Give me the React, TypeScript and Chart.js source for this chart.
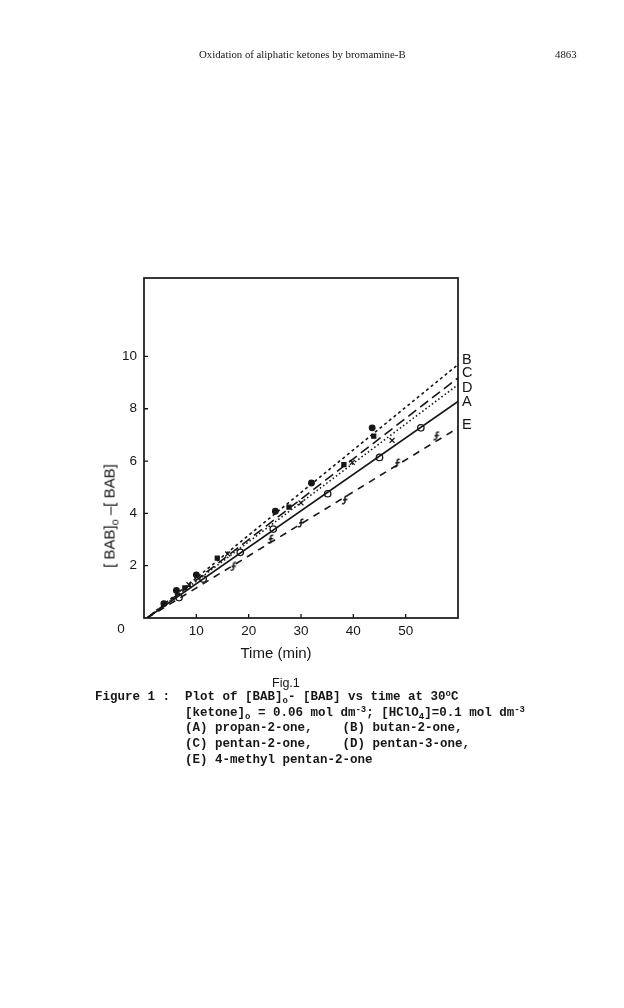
import React, { useEffect, useRef } from 'react';
import { Chart, registerables } from 'chart.js';

Chart.register(...registerables);

// ---- axis setup ----
const xTickValues = [10, 20, 30, 40, 50];
const yTickValues = [2, 4, 6, 8, 10];
const xMin = 0;
const xMax = 60;
const yMin = 0;
const yMax = 13;

// ---- fitted lines ----
const seriesNames = ['A', 'B', 'C', 'D', 'E'];
const fitStartTime = [0.6, 0.6, 0.6, 0.6, 0.6];
const fitStartValue = [0, 0, 0, 0, 0];
const fitEndTime = [60, 60, 60, 60, 60];
const fitEndValue = [8.28, 9.69, 9.18, 8.92, 7.27];

// ---- measured points ----
const timeA = [6.7, 11.3, 18.4, 24.7, 35.1, 45.0, 52.9];
const valueA = [0.78, 1.49, 2.51, 3.4, 4.75, 6.14, 7.27];
const timeB = [3.8, 6.2, 10.0, 25.1, 32.0, 43.6];
const valueB = [0.55, 1.05, 1.65, 4.08, 5.16, 7.27];
const timeC = [7.8, 14.0, 27.7, 38.2, 43.9];
const valueC = [1.15, 2.29, 4.24, 5.86, 6.95];
const timeD = [8.6, 16.0, 30.0, 39.8, 47.4];
const valueD = [1.27, 2.45, 4.4, 5.95, 6.79];
const timeE = [17.1, 24.2, 30.0, 38.4, 48.4, 55.9];
const valueE = [1.97, 3.02, 3.63, 4.52, 5.93, 6.97];

const pointTimes = [timeA, timeB, timeC, timeD, timeE];
const pointValues = [valueA, valueB, valueC, valueD, valueE];

const INK = '#161616';
const SANS = "'Liberation Sans Narrow', 'Liberation Sans', Arial, sans-serif";
const MONO = "'Liberation Mono', 'DejaVu Sans Mono', monospace";
const SERIF = "'Liberation Serif', 'DejaVu Serif', serif";

function makeHookMarker(): HTMLCanvasElement {
  const c = document.createElement('canvas');
  c.width = 8;
  c.height = 10;
  const g = c.getContext('2d')!;
  g.strokeStyle = INK;
  g.lineWidth = 1.5;
  g.beginPath();
  g.moveTo(6.5, 1.5);
  g.quadraticCurveTo(3.5, 0.5, 4, 4);
  g.lineTo(4, 6.5);
  g.quadraticCurveTo(4, 9.5, 1, 8.5);
  g.stroke();
  g.beginPath();
  g.moveTo(2, 5);
  g.lineTo(6.5, 4.5);
  g.stroke();
  return c;
}

const styleFor: Record<string, any> = {
  A: { dash: [], pointStyle: 'circle', fill: '#ffffff', radius: 3.2 },
  B: { dash: [3, 3], pointStyle: 'circle', fill: INK, radius: 2.8 },
  C: { dash: [10, 5], pointStyle: 'rect', fill: INK, radius: 2.8 },
  D: { dash: [1.5, 2.5], pointStyle: 'crossRot', fill: INK, radius: 3.5 },
  E: { dash: [7, 6], pointStyle: 'hook', fill: INK, radius: 4 },
};
const labelOffset: Record<string, number> = { A: 1, B: -5, C: -5, D: 3, E: -3 };

const framePlugin = {
  id: 'frame',
  afterDraw(chart: any) {
    const { ctx, chartArea, scales } = chart;
    const { left, right, top, bottom } = chartArea;
    const x = scales.x;
    const y = scales.y;
    ctx.save();
    ctx.strokeStyle = INK;
    ctx.lineWidth = 1.7;
    ctx.strokeRect(left, top, right - left, bottom - top);
    ctx.lineWidth = 1.3;
    ctx.beginPath();
    xTickValues.forEach((v) => {
      const px = x.getPixelForValue(v);
      ctx.moveTo(px, bottom);
      ctx.lineTo(px, bottom - 4);
    });
    yTickValues.forEach((v) => {
      const py = y.getPixelForValue(v);
      ctx.moveTo(left, py);
      ctx.lineTo(left + 4, py);
    });
    ctx.stroke();
    ctx.fillStyle = INK;
    ctx.font = `13.5px ${SANS}`;
    ctx.textAlign = 'center';
    ctx.textBaseline = 'middle';
    ctx.fillText('0', left - 23, bottom + 11);
    ctx.font = `14.5px ${SANS}`;
    ctx.textAlign = 'left';
    seriesNames.forEach((name, i) => {
      const py = y.getPixelForValue(fitEndValue[i]) + labelOffset[name];
      ctx.fillText(name, right + 4, py);
    });
    ctx.restore();
  },
};

export default function App() {
  const canvasRef = useRef<HTMLCanvasElement | null>(null);

  useEffect(() => {
    if (!canvasRef.current) return;
    const hook = makeHookMarker();
    const datasets: any[] = [];
    seriesNames.forEach((name, i) => {
      const s = styleFor[name];
      datasets.push({
        label: `fit ${name}`,
        data: [
          { x: fitStartTime[i], y: fitStartValue[i] },
          { x: fitEndTime[i], y: fitEndValue[i] },
        ],
        showLine: true,
        borderColor: INK,
        borderWidth: 1.6,
        borderDash: s.dash,
        pointRadius: 0,
        fill: false,
      });
    });
    seriesNames.forEach((name, i) => {
      const s = styleFor[name];
      datasets.push({
        label: name,
        data: pointTimes[i].map((t, j) => ({ x: t, y: pointValues[i][j] })),
        showLine: false,
        pointStyle: s.pointStyle === 'hook' ? hook : s.pointStyle,
        pointRadius: s.radius,
        pointBackgroundColor: s.fill,
        pointBorderColor: INK,
        pointBorderWidth: 1.3,
      });
    });

    const chart = new Chart(canvasRef.current, {
      type: 'scatter',
      data: { datasets },
      plugins: [framePlugin],
      options: {
        responsive: false,
        animation: false,
        devicePixelRatio: 1,
        layout: { padding: { left: 104, top: 278, right: 166, bottom: 360 } },
        plugins: { legend: { display: false }, tooltip: { enabled: false } },
        scales: {
          x: {
            type: 'linear',
            min: xMin,
            max: xMax,
            afterBuildTicks: (s: any) => {
              s.ticks = xTickValues.map((v) => ({ value: v }));
            },
            afterFit: (s: any) => {
              s.height = 30;
            },
            grid: { display: false, drawTicks: false },
            border: { display: false },
            ticks: {
              padding: 5,
              color: INK,
              font: { family: SANS, size: 13.5 },
              maxRotation: 0,
              autoSkip: false,
            },
          },
          y: {
            type: 'linear',
            min: yMin,
            max: yMax,
            afterBuildTicks: (s: any) => {
              s.ticks = yTickValues.map((v) => ({ value: v }));
            },
            afterFit: (s: any) => {
              s.width = 40;
            },
            grid: { display: false, drawTicks: false },
            border: { display: false },
            ticks: {
              padding: 7,
              color: INK,
              font: { family: SANS, size: 13.5 },
              autoSkip: false,
            },
          },
        },
      },
    });
    return () => chart.destroy();
  }, []);

  const abs = (left: number, cy: number, size: number, extra: any = {}) => ({
    position: 'absolute' as const,
    left,
    top: cy - size / 2,
    fontSize: size,
    lineHeight: `${size}px`,
    whiteSpace: 'pre' as const,
    color: INK,
    margin: 0,
    ...extra,
  });
  const sub = { fontSize: '0.72em', position: 'relative' as const, top: '0.35em' };
  const sup = { fontSize: '0.72em', position: 'relative' as const, top: '-0.45em' };

  const capLeft = 185;
  const capRows = [697, 713, 728, 744, 760];
  const capStyle = (left: number, cy: number) =>
    abs(left, cy, 12.5, { fontFamily: MONO, fontWeight: 'bold' });

  return (
    <div style={{ position: 'absolute', left: 0, top: 0, width: 624, height: 1008, background: '#fff', overflow: 'hidden' }}>
      <canvas ref={canvasRef} width={624} height={1008} style={{ position: 'absolute', left: 0, top: 0, width: 624, height: 1008 }} />
      <div style={abs(199, 54, 10.8, { fontFamily: SERIF })}>Oxidation of aliphatic ketones by bromamine-B</div>
      <div style={abs(555, 54, 10.8, { fontFamily: SERIF })}>4863</div>

      <div
        style={{
          position: 'absolute',
          left: 110,
          top: 516,
          transform: 'translate(-50%, -50%) rotate(-90deg)',
          fontFamily: SANS,
          fontSize: 15,
          lineHeight: '15px',
          whiteSpace: 'pre',
          color: INK,
        }}
      >
        [ BAB]<span style={sub}>o</span> –[ BAB]
      </div>
      <div
        style={{
          position: 'absolute',
          left: 276,
          top: 652,
          transform: 'translate(-50%, -50%)',
          fontFamily: SANS,
          fontSize: 15,
          lineHeight: '15px',
          whiteSpace: 'pre',
          color: INK,
        }}
      >
        Time (min)
      </div>
      <div style={abs(272, 683, 12.5, { fontFamily: SANS })}>Fig.1</div>

      <div style={capStyle(95, capRows[0])}>
        Figure 1 :  Plot of [BAB]<span style={sub}>o</span>- [BAB] vs time at 30<span style={sup}>o</span>C
      </div>
      <div style={capStyle(capLeft, capRows[1])}>
        [ketone]<span style={sub}>o</span> = 0.06 mol dm<span style={sup}>-3</span>; [HClO<span style={sub}>4</span>]=0.1 mol dm<span style={sup}>-3</span>
      </div>
      <div style={capStyle(capLeft, capRows[2])}>(A) propan-2-one,    (B) butan-2-one,</div>
      <div style={capStyle(capLeft, capRows[3])}>(C) pentan-2-one,    (D) pentan-3-one,</div>
      <div style={capStyle(capLeft, capRows[4])}>(E) 4-methyl pentan-2-one</div>
    </div>
  );
}
